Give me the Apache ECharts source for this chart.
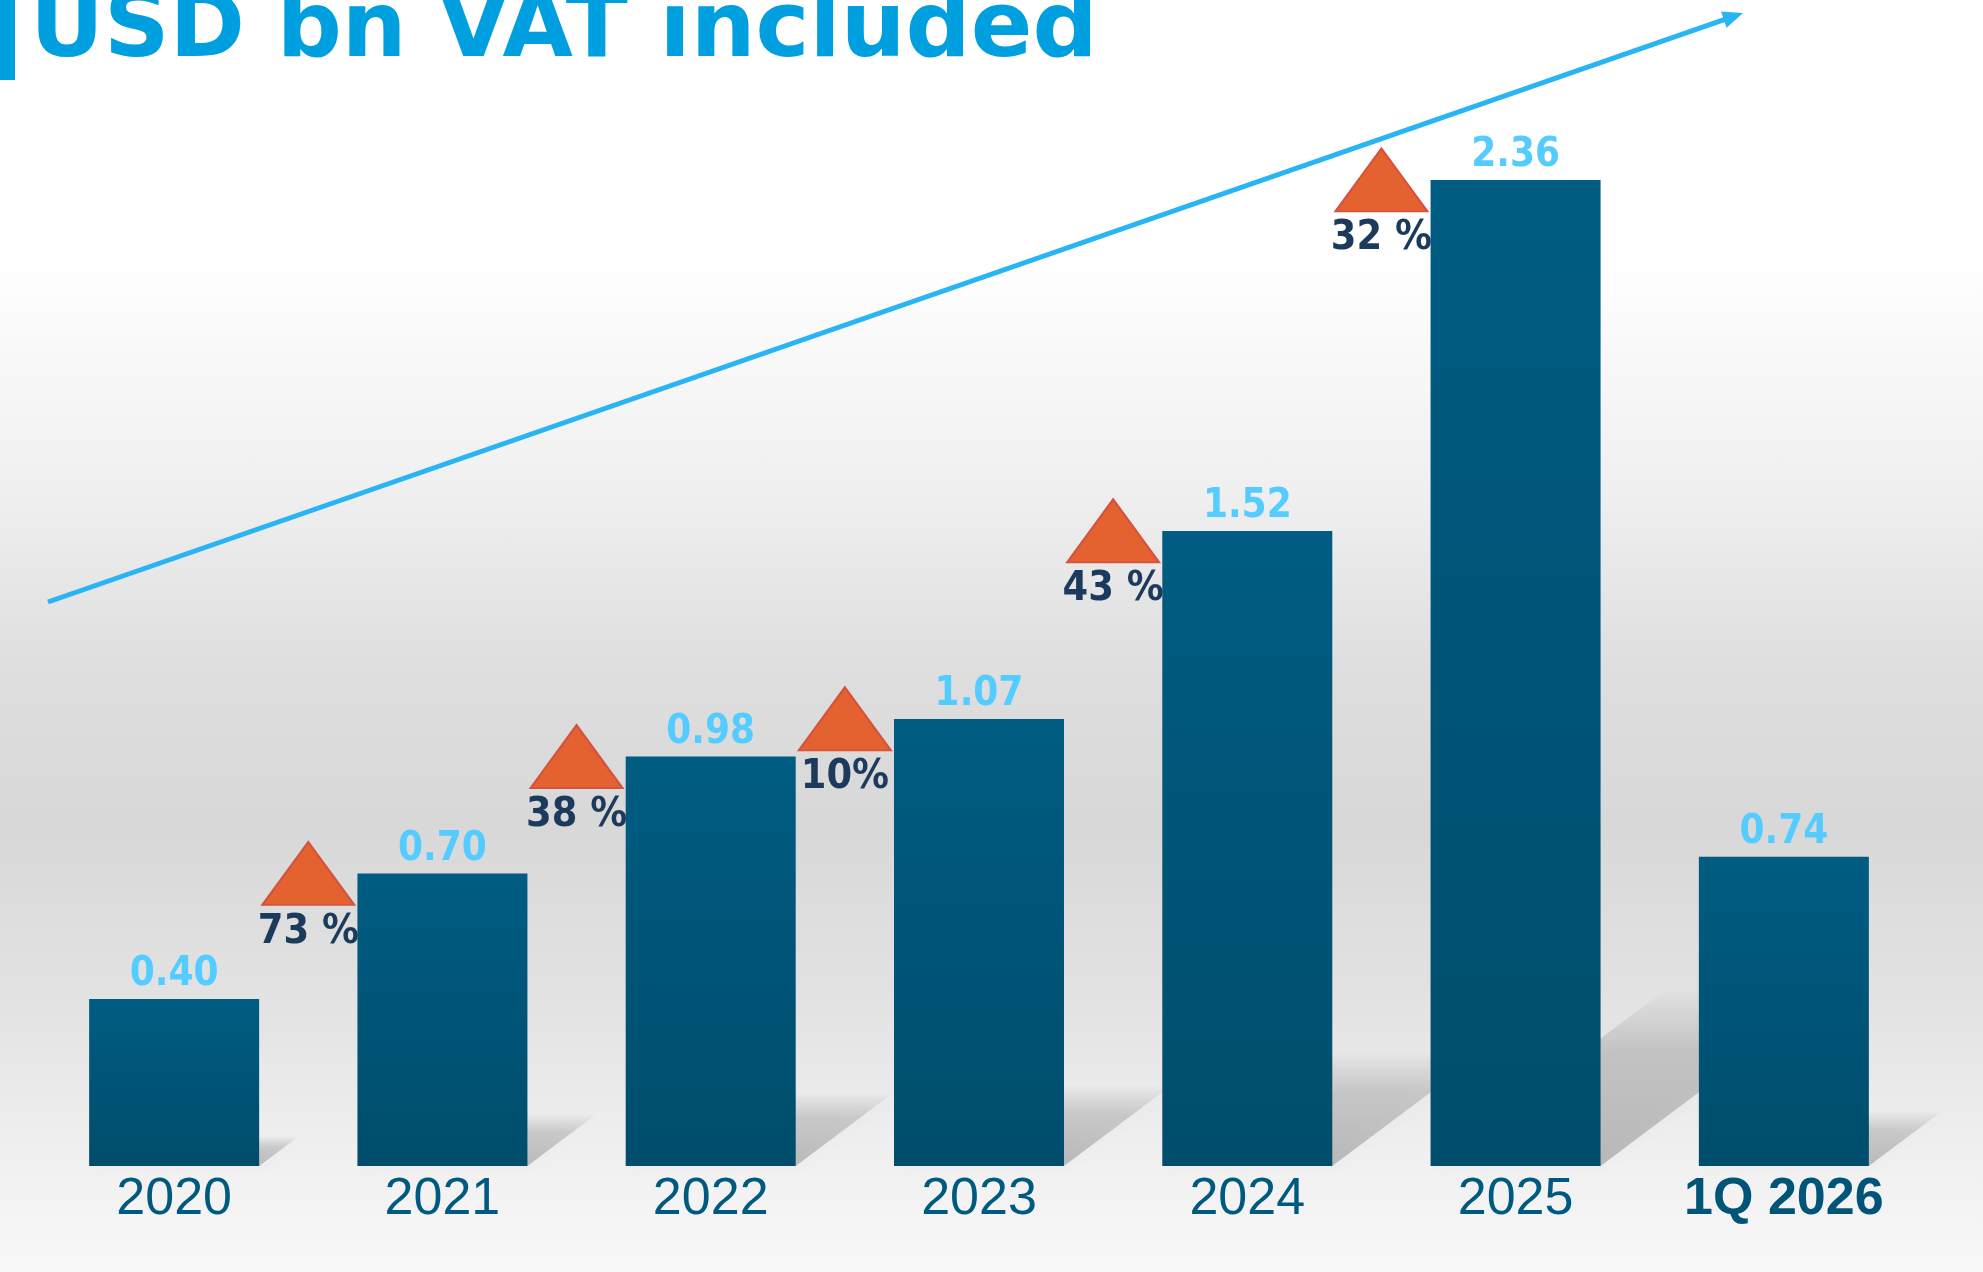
<!DOCTYPE html>
<html>
<head>
<meta charset="utf-8">
<title>USD bn VAT included</title>
<script src="https://cdn.jsdelivr.net/npm/echarts@6.0.0/dist/echarts.min.js"></script>
<style>
  html, body { margin: 0; padding: 0; }
  #chart {
    width: 1983px;
    height: 1272px;
    background: linear-gradient(to bottom,
      #ffffff 0%, #ffffff 20%, #f0f0f0 38%, #dedede 53%,
      #d8d8d8 65%, #e2e2e2 78%, #efefef 90%, #f8f8f8 100%);
  }
</style>
</head>
<body>
<div id="chart"></div>
<script>
  // data
  const categories = ['2020', '2021', '2022', '2023', '2024', '2025', '1Q 2026'];
  const values = [0.40, 0.70, 0.98, 1.07, 1.52, 2.36, 0.74];
  const growthLabels = ['73 %', '38 %', '10%', '43 %', '32 %'];

  const chart = echarts.init(document.getElementById('chart'));

  const barColor = new echarts.graphic.LinearGradient(0, 0, 0, 1, [
    { offset: 0, color: '#005c82' },
    { offset: 1, color: '#004d6c' }
  ]);
  const shadowFill = new echarts.graphic.LinearGradient(0, 0, 0, 1, [
    { offset: 0, color: 'rgba(0,0,0,0)' },
    { offset: 0.35, color: 'rgba(0,0,0,0.14)' },
    { offset: 1, color: 'rgba(0,0,0,0.22)' }
  ]);

  // trend arrow (decoration)
  const ax0 = [48, 602], ax1 = [1743, 13];
  const ang = Math.atan2(ax1[1] - ax0[1], ax1[0] - ax0[0]);
  const head = 22;
  const headPts = [
    ax1,
    [ax1[0] - head * Math.cos(ang - 0.4), ax1[1] - head * Math.sin(ang - 0.4)],
    [ax1[0] - head * Math.cos(ang + 0.4), ax1[1] - head * Math.sin(ang + 0.4)]
  ];

  const option = {
    backgroundColor: 'transparent',
    animation: false,
    grid: { left: 40, right: 65, top: 180, bottom: 106 },
    xAxis: [
      {
        type: 'category',
        data: categories,
        axisLine: { show: false },
        axisTick: { show: false },
        axisLabel: {
          interval: 0,
          margin: 8,
          color: '#005a80',
          fontFamily: 'Liberation Sans',
          fontSize: 52,
          formatter: function (v, i) {
            return i === categories.length - 1 ? '{b|' + v + '}' : v;
          },
          rich: {
            b: { fontFamily: 'Liberation Sans', fontWeight: 'bold', fontSize: 52, color: '#005478' }
          }
        }
      },
      { type: 'value', min: -0.5, max: categories.length - 0.5, show: false }
    ],
    yAxis: { type: 'value', min: 0, max: 'dataMax', show: false, splitLine: { show: false } },
    series: [
      {
        // floor shadows cast by the bars
        type: 'custom',
        silent: true,
        z: 1,
        data: values.map((v, i) => [i, v]),
        renderItem: function (params, api) {
          const i = api.value(0);
          const top = api.coord([i, api.value(1)]);
          const base = api.coord([i, 0]);
          const h = base[1] - top[1];
          const half = 85;
          const dx = h * 0.24, dy = h * 0.18;
          return {
            type: 'polygon',
            shape: {
              points: [
                [base[0] - half, base[1]],
                [base[0] + half, base[1]],
                [base[0] + half + dx, base[1] - dy],
                [base[0] - half + dx, base[1] - dy]
              ]
            },
            style: { fill: shadowFill, shadowBlur: 16, shadowColor: 'rgba(0,0,0,0.1)' }
          };
        }
      },
      {
        type: 'bar',
        z: 3,
        data: values,
        barWidth: 170,
        itemStyle: { color: barColor },
        label: {
          show: true,
          position: 'top',
          distance: 4,
          color: '#55ccff',
          fontFamily: 'DejaVu Sans Condensed',
          fontWeight: 'bold',
          fontSize: 40,
          formatter: p => p.value.toFixed(2)
        }
      },
      {
        type: 'scatter',
        xAxisIndex: 1,
        z: 4,
        data: growthLabels.map((g, i) => [i + 0.5, values[i + 1]]),
        symbol: 'triangle',
        symbolSize: [92, 63],
        itemStyle: { color: '#e4622f', borderColor: '#d4523f', borderWidth: 2, opacity: 1 },
        label: {
          show: true,
          position: 'bottom',
          distance: 6,
          color: '#1b3a5c',
          opacity: 1,
          fontFamily: 'DejaVu Sans Condensed',
          fontWeight: 'bold',
          fontSize: 41,
          formatter: p => growthLabels[p.dataIndex]
        }
      }
    ],
    graphic: [
      { type: 'rect', shape: { x: 0, y: 0, width: 15, height: 80 }, style: { fill: '#00a0e0' } },
      {
        type: 'text', x: 30, y: 32,
        style: {
          text: 'USD bn VAT included',
          fill: '#00a0e0',
          font: 'bold 91px "DejaVu Sans"',
          verticalAlign: 'middle'
        }
      },
      {
        type: 'line',
        shape: { x1: ax0[0], y1: ax0[1], x2: ax1[0] - 10 * Math.cos(ang), y2: ax1[1] - 10 * Math.sin(ang) },
        style: { stroke: '#29b4f4', lineWidth: 5 }
      },
      { type: 'polygon', shape: { points: headPts }, style: { fill: '#29b4f4' } }
    ]
  };

  chart.setOption(option);
</script>
</body>
</html>
